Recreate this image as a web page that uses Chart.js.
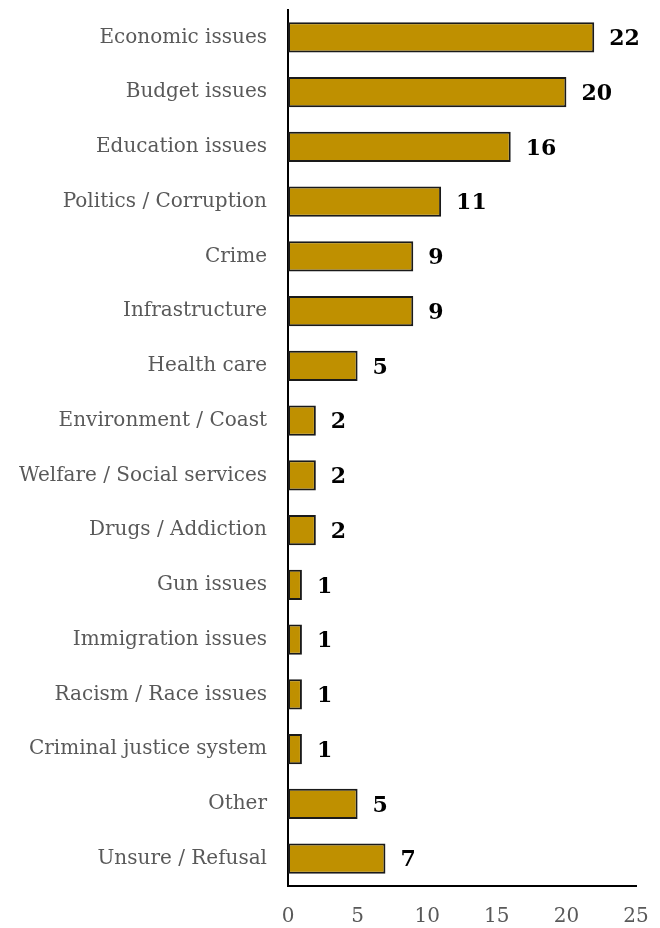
<!DOCTYPE html>
<html>
<head>
<meta charset="utf-8">
<script src="https://cdn.jsdelivr.net/npm/chart.js@4"></script>
<style>
  html, body { margin: 0; padding: 0; background: #fff; }
  #wrap { width: 660px; height: 928px; }
</style>
</head>
<body>
<div id="wrap"><canvas id="issues-chart" width="660" height="928"></canvas></div>
<script>
const categories = [
  'Economic issues', 'Budget issues', 'Education issues', 'Politics / Corruption',
  'Crime', 'Infrastructure', 'Health care', 'Environment / Coast',
  'Welfare / Social services', 'Drugs / Addiction', 'Gun issues', 'Immigration issues',
  'Racism / Race issues', 'Criminal justice system', 'Other', 'Unsure / Refusal'
];
const counts = [22, 20, 16, 11, 9, 9, 5, 2, 2, 2, 1, 1, 1, 1, 5, 7];
const xTicks = [0, 5, 10, 15, 20, 25];

const serif = "'DejaVu Serif', 'Liberation Serif', serif";

// draws the bold count right of each bar
const valueLabels = {
  id: 'valueLabels',
  afterDatasetsDraw(chart) {
    const ctx = chart.ctx;
    const meta = chart.getDatasetMeta(0);
    ctx.save();
    ctx.font = 'bold 22px ' + serif;
    ctx.fillStyle = '#000';
    ctx.textAlign = 'left';
    ctx.textBaseline = 'middle';
    meta.data.forEach((bar, i) => {
      ctx.fillText(String(counts[i]), bar.x + 15, bar.y + 2);
    });
    ctx.restore();
  }
};

new Chart(document.getElementById('issues-chart'), {
  type: 'bar',
  data: {
    labels: categories,
    datasets: [{
      data: counts,
      backgroundColor: '#BF9000',
      borderColor: '#1a1a1a',
      borderWidth: 2,
      borderSkipped: false,
      barPercentage: 0.55,
      categoryPercentage: 1
    }]
  },
  options: {
    indexAxis: 'y',
    responsive: false,
    animation: false,
    layout: { padding: { top: 10, right: 24, left: 0, bottom: 0 } },
    plugins: {
      legend: { display: false },
      tooltip: { enabled: false }
    },
    scales: {
      x: {
        min: 0,
        max: 25,
        afterBuildTicks: (scale) => { scale.ticks = xTicks.map(v => ({ value: v })); },
        afterFit: (scale) => {
          scale.height = 42;
          scale.paddingLeft = 0;
          scale.paddingRight = 0;
        },
        grid: { display: false, drawTicks: false },
        border: { display: true, color: '#000', width: 2 },
        ticks: {
          padding: 19,
          color: '#595959',
          font: { family: serif, size: 20 }
        }
      },
      y: {
        afterFit: (scale) => {
          scale.width = 288;
          scale.paddingTop = 0;
          scale.paddingBottom = 0;
        },
        grid: { display: false, drawTicks: false },
        border: { display: true, color: '#000', width: 2 },
        ticks: {
          padding: 21,
          color: '#595959',
          font: { family: serif, size: 20 }
        }
      }
    }
  },
  plugins: [valueLabels]
});
</script>
</body>
</html>
